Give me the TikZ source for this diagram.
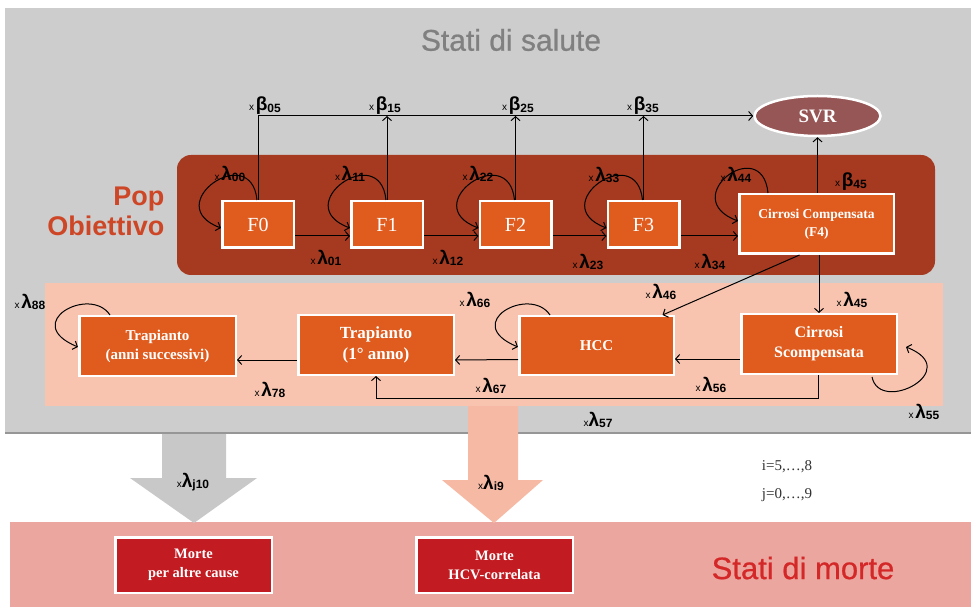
\documentclass[tikz,border=0pt]{standalone}
\usepackage{fontspec}
\setmainfont{Liberation Serif}
\setsansfont{Liberation Sans}
\newfontfamily\lsans{Liberation Sans}
\newfontfamily\titsans[FakeBold=0.7]{Liberation Sans}
\usetikzlibrary{arrows.meta,calc,shadows,shapes.geometric}
\definecolor{bggray}{RGB}{205,205,205}
\definecolor{darkband}{RGB}{165,58,32}
\definecolor{boxor}{RGB}{224,92,30}
\definecolor{popred}{RGB}{205,70,38}
\definecolor{pinkr}{RGB}{248,196,176}
\definecolor{pinka}{RGB}{246,186,164}
\definecolor{grayarr}{RGB}{200,200,200}
\definecolor{band}{RGB}{236,166,160}
\definecolor{mred}{RGB}{194,28,34}
\definecolor{mortered}{RGB}{212,40,40}
\definecolor{svrcol}{RGB}{150,86,86}
\definecolor{salutegray}{RGB}{128,128,128}
\definecolor{edgegray}{RGB}{150,150,150}
\newcommand\rl[3][\,]{\mbox{{\lsans\fontsize{10}{10}\selectfont x}#1{\lsans\bfseries\fontsize{19}{19}\selectfont #2}\raisebox{-1.5pt}{\lsans\bfseries\fontsize{12}{12}\selectfont #3}}}
\newcommand\floop[2]{\draw[arr] ($(#1.north west)+(#2,0)$) .. controls ($(#1.north west)+(#2-6,-60)$) and ($(#1.north west)+(-62,5)$) .. ($(#1.north west)+(0,28)$);}
\newcommand\lloop[1]{\draw[arr] ($(#1.north west)+(32,0)$) .. controls ($(#1.north west)+(12,-30)$) and ($(#1.north west)+(-58,8)$) .. ($(#1.north west)+(0,32)$);}
\begin{document}
\begin{tikzpicture}[x=1pt,y=-1pt,
  arr/.style={line width=1pt,-{Straight Barb[length=4pt,width=9pt,line width=1pt]}},
  obox/.style={draw=white,line width=2.5pt,fill=boxor,text=white,align=center,inner sep=0pt,
    drop shadow={opacity=0.35,shadow xshift=1.5pt,shadow yshift=-1.5pt}},
  mbox/.style={obox,fill=mred},
  lbl/.style={inner sep=0pt}]
\useasboundingbox (0,0) rectangle (971,609);
\fill[white] (0,0) rectangle (971,609);
\fill[bggray] (5,8) rectangle (971,433);
\draw[edgegray,line width=1.5pt] (5,433) -- (971,433);
\fill[pinkr] (45,283) rectangle (943,406);
\fill[band] (10,522) rectangle (971,607);
\fill[pinka] (468,406) -- (518,406) -- (518,480) -- (543,480) -- (494,523) -- (442,480) -- (468,480) -- cycle;
\fill[grayarr] (162,434) -- (226,434) -- (226,478) -- (257,478) -- (194,523) -- (130,478) -- (162,478) -- cycle;
\fill[darkband,rounded corners=14pt] (177,155) rectangle (935,275);

% titles
\node[font=\titsans\fontsize{30}{30}\selectfont,text=salutegray] (tsal) at (511,40) {Stati di salute};
\node[font=\sffamily\bfseries\fontsize{27}{30}\selectfont,text=popred,align=right,anchor=east] (tpop) at (168,211) {Pop\\Obiettivo};
\node[font=\titsans\fontsize{31}{31}\selectfont,text=mortered] (tmor) at (803,568) {Stati di morte};
\node[font=\fontsize{15}{15}\selectfont,text=black!80] (ti) at (787,467) {i=5,…,8};
\node[font=\fontsize{15}{15}\selectfont,text=black!80] (tj) at (787,495) {j=0,…,9};

% SVR
\node[ellipse,draw=white,line width=2.5pt,fill=svrcol,minimum width=126pt,minimum height=40pt,text=white,font=\bfseries\fontsize{19}{19}\selectfont,inner sep=0pt] (SVR) at (817.5,116) {SVR};

% Pop obiettivo boxes
\node[obox,minimum width=71.5pt,minimum height=46.5pt,font=\fontsize{20}{20}\selectfont] (F0) at (258,224.5) {F0};
\node[obox,minimum width=71.5pt,minimum height=46.5pt,font=\fontsize{20}{20}\selectfont] (F1) at (387,224.5) {F1};
\node[obox,minimum width=71.5pt,minimum height=46.5pt,font=\fontsize{20}{20}\selectfont] (F2) at (515.5,224.5) {F2};
\node[obox,minimum width=71.5pt,minimum height=46.5pt,font=\fontsize{20}{20}\selectfont] (F3) at (643.5,224.5) {F3};
\node[obox,minimum width=154.5pt,minimum height=59.5pt,font=\bfseries\fontsize{13.5}{18}\selectfont] (F4) at (816.5,224) {Cirrosi Compensata\\(F4)};

% lower boxes
\node[obox,minimum width=156.5pt,minimum height=59.5pt,font=\bfseries\fontsize{15}{19}\selectfont] (Tss) at (157.5,346) {Trapianto\\(anni successivi)};
\node[obox,minimum width=155.5pt,minimum height=59.5pt,font=\bfseries\fontsize{17}{21}\selectfont] (T1) at (376,345) {Trapianto\\(1° anno)};
\node[obox,minimum width=154.5pt,minimum height=58.5pt,font=\bfseries\fontsize{15}{15}\selectfont] (HCC) at (596.5,345.5) {HCC};
\node[obox,minimum width=155.5pt,minimum height=59.5pt,font=\bfseries\fontsize{16}{20}\selectfont] (CS) at (819,344) {Cirrosi\\Scompensata};

% death boxes
\node[mbox,minimum width=156.5pt,minimum height=55.5pt,font=\bfseries\fontsize{14.5}{19}\selectfont] (M1) at (193.5,565) {Morte\\per altre cause};
\node[mbox,minimum width=156.5pt,minimum height=55.5pt,font=\bfseries\fontsize{14.5}{19}\selectfont] (M2) at (494.5,565) {Morte\\HCV-correlata};

% beta connectors
\draw[arr] (F0.north) -- (F0.north |- SVR.west) -- (SVR.west);
\draw[arr] (F1.north) -- (F1.north |- SVR.west);
\draw[arr] (F2.north) -- (F2.north |- SVR.west);
\draw[arr] (F3.north) -- (F3.north |- SVR.west);
\draw[arr] (SVR.south |- F4.north) -- (SVR.south);

% self loops
\floop{F0}{36}
\floop{F1}{36}
\floop{F2}{36}
\floop{F3}{36}
\floop{F4}{30}
\lloop{Tss}
\lloop{HCC}
\draw[arr] ($(CS.south east)+(-26,2)$) .. controls ($(CS.south east)+(-18,40)$) and ($(CS.south east)+(67,-5)$) .. ($(CS.south east)+(8,-28)$);

% progression
\draw[arr] ($(F0.east)+(0,11.5)$) -- ($(F1.west)+(0,11.5)$);
\draw[arr] ($(F1.east)+(0,11.5)$) -- ($(F2.west)+(0,11.5)$);
\draw[arr] ($(F2.east)+(0,11.5)$) -- ($(F3.west)+(0,11.5)$);
\draw[arr] ($(F3.east)+(0,11.5)$) -- ($(F4.west)+(0,12)$);

% lower connectors
\draw[arr] (CS.north |- F4.south) -- (CS.north);
\draw[arr] ($(F4.south)+(-17,0)$) -- ($(HCC.north)+(66,0)$);
\draw[arr] ($(CS.west)+(0,15)$) -- ($(HCC.east)+(0,13.5)$);
\draw[arr] ($(HCC.west)+(0,14)$) -- ($(T1.east)+(0,15)$);
\draw[arr] ($(T1.west)+(0,15)$) -- ($(Tss.east)+(0,14)$);
\draw[arr] ($(CS.south)+(-1,0)$) -- ++(0,23) -| (T1.south);

% labels
\node[lbl] (b05) at (265,106) {\rl{β}{05}};
\node[lbl] (b15) at (385,106) {\rl{β}{15}};
\node[lbl] (b25) at (518,106) {\rl{β}{25}};
\node[lbl] (b35) at (643,106) {\rl{β}{35}};
\node[lbl] (b45) at (851,182) {\rl{β}{45}};
\node[lbl] (l00) at (230,174) {\rl{λ}{00}};
\node[lbl] (l11) at (350,174) {\rl{λ}{11}};
\node[lbl] (l22) at (478,174) {\rl{λ}{22}};
\node[lbl] (l33) at (604,175) {\rl{λ}{33}};
\node[lbl] (l44) at (736,175) {\rl{λ}{44}};
\node[lbl] (l01) at (326,258) {\rl{λ}{01}};
\node[lbl] (l12) at (448,258) {\rl{λ}{12}};
\node[lbl] (l23) at (588,262) {\rl{λ}{23}};
\node[lbl] (l34) at (710,262) {\rl{λ}{34}};
\node[lbl] (l46) at (661,292) {\rl{λ}{46}};
\node[lbl] (l45) at (852,300) {\rl{λ}{45}};
\node[lbl] (l56) at (711,385) {\rl{λ}{56}};
\node[lbl] (l67) at (491,386) {\rl{λ}{67}};
\node[lbl] (l57) at (598,420) {\rl[]{λ}{57}};
\node[lbl] (l55) at (924,412) {\rl{λ}{55}};
\node[lbl] (l66) at (475,300) {\rl{λ}{66}};
\node[lbl] (l88) at (30,302) {\rl{λ}{88}};
\node[lbl] (l78) at (270,390) {\rl{λ}{78}};
\node[lbl] (lj10) at (193,482) {\rl[]{λ}{j10}};
\node[lbl] (li9) at (491,483) {\rl[]{λ}{i9}};
\end{tikzpicture}
\end{document}
